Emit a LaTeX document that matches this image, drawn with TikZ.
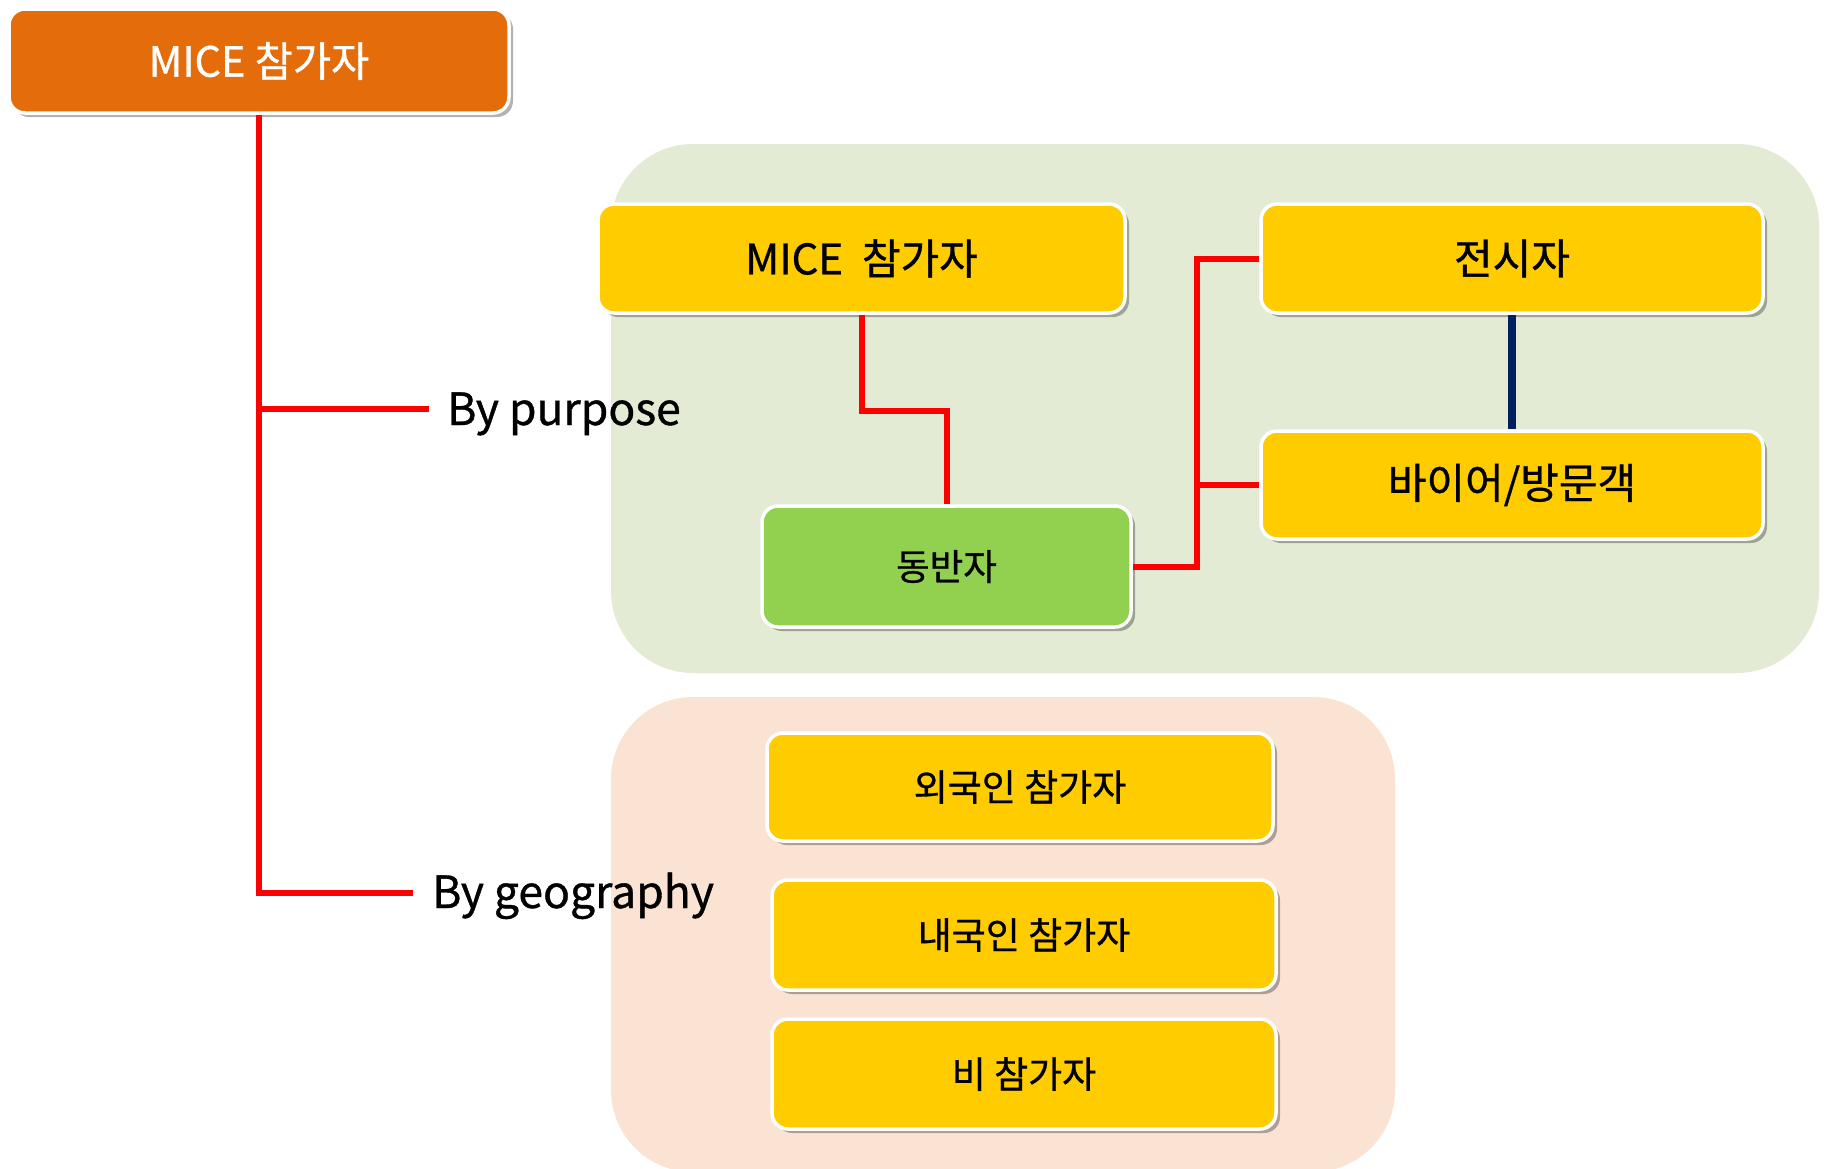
\documentclass[tikz,border=0pt]{standalone}
\usepackage{fontspec}
\setmainfont{Noto Sans CJK KR}[FakeBold=0.8]
\usetikzlibrary{shadows}
\definecolor{orangeA}{HTML}{E46C0A}
\definecolor{goldA}{HTML}{FFCC00}
\definecolor{greenA}{HTML}{92D050}
\definecolor{panelG}{HTML}{E3EBD5}
\definecolor{panelP}{HTML}{FBE3D4}
\definecolor{navyA}{HTML}{002060}
\definecolor{redA}{HTML}{FF0000}
\begin{document}
\begin{tikzpicture}[x=1pt,y=-1pt,
  boxbase/.style={rectangle, rounded corners=16pt, draw=white, line width=3.5pt,
    drop shadow={shadow xshift=4pt, shadow yshift=-4pt, opacity=0.3, fill=black},
    inner sep=0pt, align=center},
  orangebox/.style={boxbase, fill=orangeA, text=white, font=\fontsize{41.5}{48}\selectfont},
  goldbox/.style={boxbase, fill=goldA, text=black, font=\fontsize{42}{48}\selectfont},
  goldsmall/.style={boxbase, fill=goldA, text=black, font=\fontsize{37}{42}\selectfont},
  greenbox/.style={boxbase, fill=greenA, text=black, font=\fontsize{36.5}{42}\selectfont},
  branchlabel/.style={anchor=base west, inner sep=0pt, font=\fontsize{44.5}{54}\selectfont},
  redline/.style={draw=redA, line width=6pt},
  navyline/.style={draw=navyA, line width=7.5pt}]
\useasboundingbox (0,0) rectangle (1831,1168);
\clip (0,0) rectangle (1831,1168);
% panels
\path[fill=panelG, rounded corners=82pt] (611,144) rectangle (1819,673);
\path[fill=panelP, rounded corners=82pt] (611,697) rectangle (1395,1172);
% nodes
\node[orangebox, minimum width=500pt, minimum height=104pt] (root) at (259,61) {MICE 참가자};
\node[goldbox, minimum width=527pt, minimum height=109pt] (mice) at (861.5,258.5) {MICE~~참가자};
\node[goldbox, minimum width=502pt, minimum height=109pt] (jeon) at (1512,258.5) {전시자};
\node[goldbox, minimum width=502pt, minimum height=108pt] (buyer) at (1512,485) {바이어/방문객};
\node[greenbox, minimum width=369pt, minimum height=121pt] (dong) at (946.5,566.5) {동반자};
\node[goldsmall, minimum width=506pt, minimum height=108pt] (foreign) at (1020,787) {외국인 참가자};
\node[goldsmall, minimum width=504pt, minimum height=110pt] (domestic) at (1024,935) {내국인 참가자};
\node[goldsmall, minimum width=504pt, minimum height=110pt] (non) at (1024,1074) {비 참가자};
\node[branchlabel] (purpose) at (447,425) {By purpose};
\node[branchlabel] (geo) at (432,908) {By geography};
\coordinate (pend) at (429,409);
\coordinate (gend) at (413,893);
% connectors
\draw[redline] (root.south) |- (gend);
\draw[redline] (root.south |- pend) -- (pend);
\draw[redline] (mice.south) -- ++(0,96) -| (dong.north);
\coordinate (jn) at (1197,566.5);
\draw[redline] (dong.east) -- (jn) |- (jeon.west);
\draw[redline] (jn |- buyer.west) -- (buyer.west);
\draw[navyline] (jeon.south) -- (buyer.north);
\end{tikzpicture}
\end{document}
